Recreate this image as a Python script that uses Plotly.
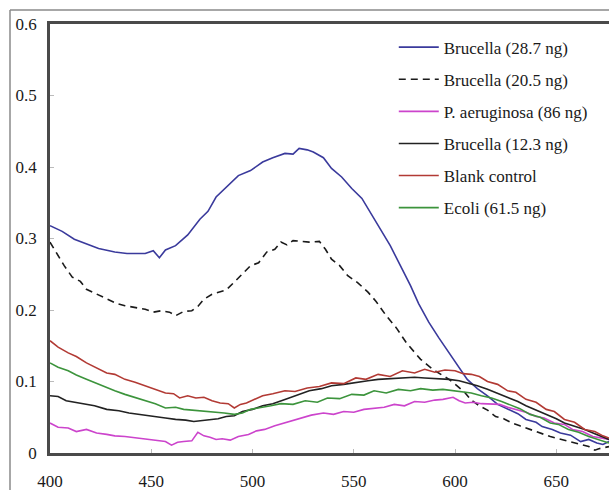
import plotly.graph_objects as go

# Wavelength (nm) / absorbance readings for each series
blue_x = [400, 406, 412, 418, 424, 432, 438, 447, 451, 454, 457, 462, 468, 474, 478, 482, 487, 493, 499, 505, 510, 516, 520, 523, 527, 530, 535, 539, 544, 549, 554, 558, 563, 568, 573, 578, 582, 587, 592, 597, 602, 606, 611, 616, 621, 626, 631, 635, 640, 643, 648, 652, 657, 662, 666, 670, 673, 676]
blue_y = [0.318, 0.31, 0.299, 0.293, 0.286, 0.281, 0.279, 0.279, 0.283, 0.273, 0.284, 0.290, 0.305, 0.327, 0.338, 0.358, 0.372, 0.388, 0.395, 0.407, 0.413, 0.419, 0.418, 0.426, 0.424, 0.421, 0.413, 0.398, 0.386, 0.370, 0.356, 0.337, 0.315, 0.290, 0.262, 0.234, 0.209, 0.183, 0.161, 0.140, 0.120, 0.103, 0.090, 0.080, 0.068, 0.061, 0.055, 0.047, 0.043, 0.037, 0.033, 0.028, 0.025, 0.016, 0.019, 0.014, 0.012, 0.016]

dash_x = [400, 403, 407, 411, 415, 418, 423, 428, 433, 437, 442, 447, 451, 455, 459, 462, 466, 470, 473, 476, 480, 484, 487, 491, 495, 499, 503, 507, 511, 514, 517, 520, 524, 528, 533, 536, 539, 543, 547, 552, 557, 561, 566, 571, 576, 580, 583, 586, 589, 593, 597, 601, 605, 608, 612, 616, 620, 624, 628, 632, 637, 642, 647, 651, 656, 661, 666, 669, 671, 676]
dash_y = [0.295, 0.281, 0.262, 0.246, 0.240, 0.229, 0.222, 0.215, 0.209, 0.206, 0.203, 0.201, 0.197, 0.199, 0.197, 0.192, 0.198, 0.199, 0.205, 0.215, 0.222, 0.225, 0.228, 0.239, 0.250, 0.262, 0.266, 0.281, 0.285, 0.295, 0.291, 0.297, 0.296, 0.295, 0.296, 0.285, 0.271, 0.262, 0.248, 0.238, 0.225, 0.212, 0.192, 0.175, 0.154, 0.140, 0.131, 0.124, 0.117, 0.110, 0.103, 0.094, 0.084, 0.074, 0.066, 0.060, 0.051, 0.048, 0.042, 0.038, 0.033, 0.027, 0.023, 0.020, 0.016, 0.012, 0.009, 0.004, 0.006, 0.009]

pa_x = [400, 404, 409, 413, 418, 423, 428, 432, 437, 442, 447, 452, 457, 460, 463, 466, 470, 473, 476, 479, 482, 485, 489, 493, 498, 502, 506, 511, 516, 521, 525, 529, 535, 540, 545, 550, 555, 560, 565, 570, 575, 580, 585, 590, 594, 599, 602, 605, 609, 613, 618, 622, 626, 630, 635, 640, 644, 649, 654, 658, 663, 668, 672, 676]
pa_y = [0.042, 0.036, 0.035, 0.030, 0.033, 0.028, 0.026, 0.024, 0.023, 0.021, 0.019, 0.018, 0.016, 0.011, 0.015, 0.016, 0.017, 0.029, 0.024, 0.022, 0.019, 0.020, 0.018, 0.023, 0.026, 0.031, 0.033, 0.038, 0.042, 0.046, 0.050, 0.053, 0.056, 0.054, 0.058, 0.057, 0.061, 0.063, 0.064, 0.068, 0.066, 0.072, 0.071, 0.074, 0.075, 0.078, 0.073, 0.070, 0.071, 0.069, 0.068, 0.068, 0.064, 0.061, 0.057, 0.051, 0.049, 0.042, 0.040, 0.033, 0.030, 0.023, 0.021, 0.019]

b12_x = [400, 404, 408, 412, 417, 422, 428, 434, 439, 445, 451, 457, 462, 467, 471, 475, 479, 483, 487, 491, 495, 500, 505, 510, 516, 522, 528, 534, 539, 545, 551, 557, 562, 568, 574, 580, 585, 591, 597, 602, 606, 611, 616, 621, 626, 631, 635, 640, 645, 650, 654, 659, 664, 669, 673, 676]
b12_y = [0.080, 0.079, 0.073, 0.071, 0.068, 0.066, 0.061, 0.059, 0.056, 0.054, 0.051, 0.049, 0.047, 0.046, 0.044, 0.045, 0.046, 0.048, 0.051, 0.052, 0.058, 0.061, 0.066, 0.069, 0.075, 0.081, 0.087, 0.090, 0.094, 0.096, 0.098, 0.101, 0.103, 0.104, 0.105, 0.106, 0.105, 0.104, 0.103, 0.101, 0.098, 0.094, 0.089, 0.083, 0.077, 0.072, 0.066, 0.060, 0.054, 0.048, 0.042, 0.038, 0.033, 0.027, 0.022, 0.019]

blank_x = [400, 404, 409, 413, 418, 423, 428, 432, 437, 442, 447, 452, 457, 461, 464, 468, 472, 476, 480, 484, 488, 491, 494, 497, 501, 505, 510, 516, 521, 527, 533, 539, 545, 551, 556, 562, 568, 574, 580, 585, 590, 595, 600, 604, 608, 612, 616, 621, 626, 630, 635, 640, 645, 649, 654, 659, 664, 669, 673, 676]
blank_y = [0.157, 0.148, 0.140, 0.135, 0.126, 0.119, 0.112, 0.110, 0.103, 0.099, 0.094, 0.090, 0.084, 0.083, 0.077, 0.080, 0.077, 0.078, 0.073, 0.070, 0.069, 0.063, 0.068, 0.070, 0.075, 0.080, 0.083, 0.087, 0.086, 0.091, 0.093, 0.098, 0.097, 0.105, 0.103, 0.110, 0.107, 0.115, 0.112, 0.117, 0.113, 0.116, 0.115, 0.111, 0.110, 0.107, 0.100, 0.096, 0.087, 0.085, 0.075, 0.071, 0.061, 0.058, 0.047, 0.043, 0.033, 0.030, 0.024, 0.021]

ecoli_x = [400, 404, 409, 413, 418, 423, 428, 432, 437, 442, 447, 452, 457, 462, 466, 471, 476, 481, 486, 491, 495, 499, 504, 509, 514, 520, 526, 532, 537, 543, 549, 555, 560, 566, 572, 578, 583, 589, 594, 599, 604, 608, 613, 618, 623, 628, 632, 637, 642, 647, 651, 656, 661, 666, 671, 676]
ecoli_y = [0.126, 0.120, 0.115, 0.109, 0.103, 0.097, 0.091, 0.087, 0.082, 0.078, 0.073, 0.069, 0.063, 0.064, 0.061, 0.060, 0.058, 0.057, 0.056, 0.054, 0.056, 0.061, 0.063, 0.066, 0.069, 0.068, 0.073, 0.071, 0.077, 0.076, 0.082, 0.081, 0.087, 0.084, 0.089, 0.087, 0.090, 0.088, 0.089, 0.087, 0.085, 0.084, 0.080, 0.077, 0.072, 0.066, 0.062, 0.054, 0.050, 0.042, 0.040, 0.033, 0.029, 0.023, 0.018, 0.014]

x_tick_vals = [400, 450, 500, 550, 600, 650]
y_tick_vals = [0, 0.1, 0.2, 0.3, 0.4, 0.5, 0.6]
y_tick_text = ["0", "0.1", "0.2", "0.3", "0.4", "0.5", "0.6"]

series = [
    ("Brucella (28.7 ng)", blue_x, blue_y, "#3a3a9c", "solid"),
    ("Brucella (20.5 ng)", dash_x, dash_y, "#1a1a1a", "7px,5px"),
    ("P. aeruginosa (86 ng)", pa_x, pa_y, "#cc44cc", "solid"),
    ("Brucella (12.3 ng)", b12_x, b12_y, "#222222", "solid"),
    ("Blank control", blank_x, blank_y, "#b23a34", "solid"),
    ("Ecoli (61.5 ng)", ecoli_x, ecoli_y, "#3c943c", "solid"),
]

fig = go.Figure()
for i, (name, xs, ys, col, dash) in enumerate(series):
    fig.add_trace(go.Scatter(
        x=xs, y=ys, mode="lines", name=name, legendgroup=str(i),
        line=dict(color=col, width=1.6, dash=dash),
    ))

font_family = "Liberation Serif, Times New Roman, serif"

fig.update_layout(
    width=609, height=490,
    margin=dict(l=50, r=0, t=24, b=37),
    paper_bgcolor="white", plot_bgcolor="white",
    font=dict(family=font_family, size=17, color="#1a1a1a"),
    showlegend=True,
    legend=dict(
        x=0.615, y=0.987, xanchor="left", yanchor="top",
        bgcolor="rgba(0,0,0,0)", borderwidth=0,
        tracegroupgap=7, traceorder="grouped",
        font=dict(family=font_family, size=17, color="#1a1a1a"),
        itemwidth=40,
    ),
    xaxis=dict(
        range=[400, 676], tickvals=x_tick_vals,
        showgrid=False, zeroline=False,
        showline=True, linecolor="#4a4a4a", linewidth=2.5, mirror=True,
        ticks="inside", ticklen=4, tickcolor="#bbbbbb", tickwidth=1,
        ticklabelstandoff=11,
        tickfont=dict(family=font_family, size=17, color="#1a1a1a"),
    ),
    yaxis=dict(
        range=[0, 0.6], tickvals=y_tick_vals, ticktext=y_tick_text,
        showgrid=False, zeroline=False,
        showline=True, linecolor="#4a4a4a", linewidth=2.5, mirror=False,
        ticks="inside", ticklen=4, tickcolor="#bbbbbb", tickwidth=1,
        ticklabelstandoff=7,
        tickfont=dict(family=font_family, size=17, color="#1a1a1a"),
    ),
)

# outer figure frame (top and left edges)
fig.add_shape(type="line", xref="paper", yref="paper",
              x0=-40/559, x1=1.01, y0=1 + 14/429, y1=1 + 14/429,
              line=dict(color="#8a8a8a", width=1.5))
fig.add_shape(type="line", xref="paper", yref="paper",
              x0=-40/559, x1=-40/559, y0=1 + 14/429, y1=-40/429,
              line=dict(color="#8a8a8a", width=1.5))

fig.write_html("out.html")
